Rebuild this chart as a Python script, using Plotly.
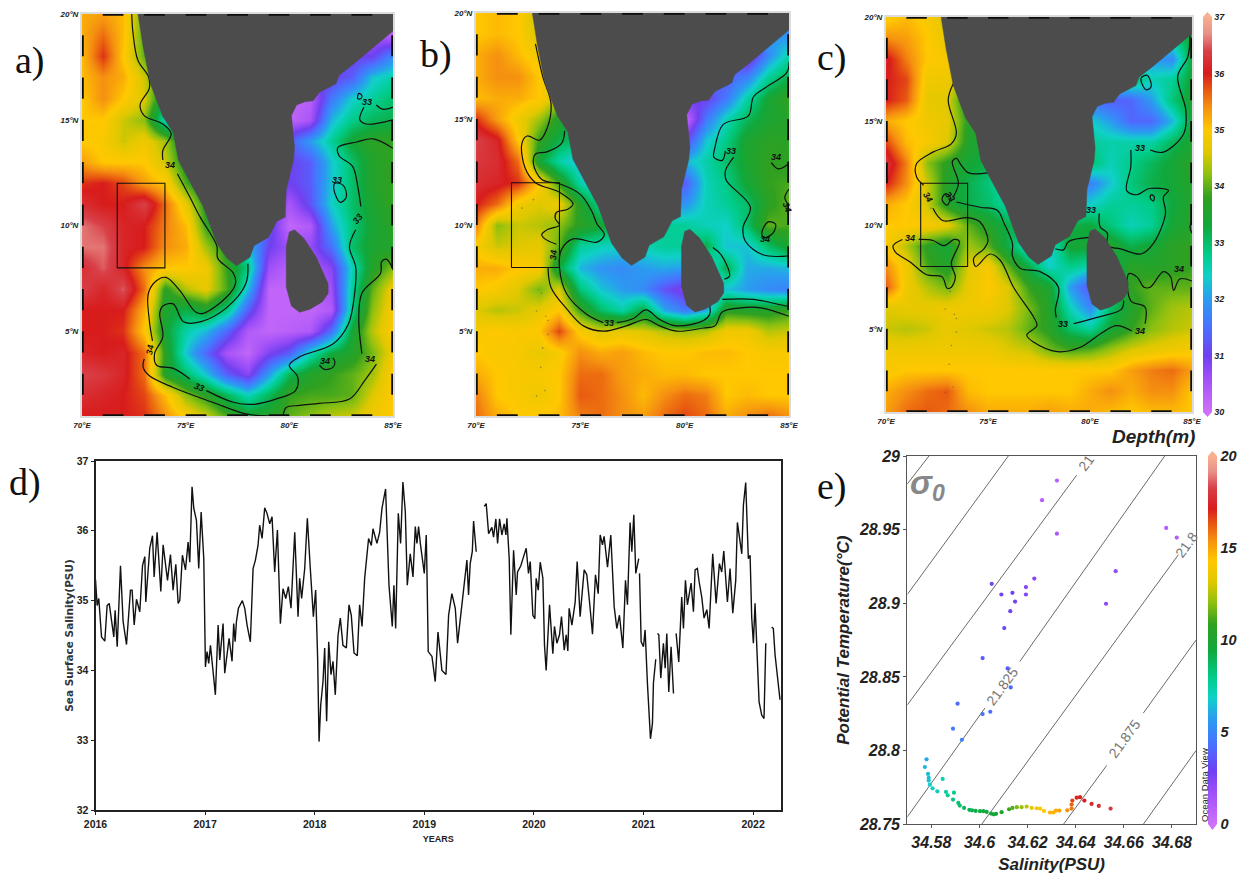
import plotly.graph_objects as go

W, H = 1239, 881

# ---------- salinity colour scale ----------
SAL_STOPS = [30, 30.6, 31, 31.5, 32, 32.4, 32.8, 33.3, 33.8, 34.2, 34.6, 35, 35.4, 35.7, 36, 36.4, 36.7, 37]
SAL_COLORS = ["#d070f8", "#a050f8", "#7040f0", "#4a70ff", "#2a9cf0", "#10d0c8", "#00cc88", "#10a83c", "#30a020",
              "#8cc010", "#e0c800", "#ffc800", "#f59010", "#e85a10", "#d81c1c", "#d84048", "#e89088", "#f8b090"]
SCALE = [[(s - 30) / 7, c] for s, c in zip(SAL_STOPS, SAL_COLORS)]

# ---------- map grid: lon 70..85, lat 20..1 ----------
LONS = list(range(70, 86))
LATS = list(range(20, 0, -1))

SSS_A = [
 [35.2,35.3,35.1,34.0,33.3,33.3,33,33,32,31,31,31,31,30.8,30.5,30.2],
 [35.2,35.6,35.1,33.9,33.3,33.3,33,33,32,31,31,31,31,30.8,30.5,30.3],
 [35.1,35.9,35.0,34.0,33.5,33.3,33,33,32,31,31,31,31,31,31,31.8],
 [35.1,35.4,35.2,34.5,33.6,33.5,33,33,32,31,31,31,31,31.3,32.3,32.6],
 [35.0,35.4,35.0,34.6,33.2,32.5,32,32,31,30.5,30.2,30.3,31.6,32.4,32.7,33],
 [35,35,34.5,34.2,32.5,32.4,32,32,31.5,30.5,30.2,30.5,32.2,32.8,33.1,33.2],
 [35,34.9,34.5,34.8,34.3,33.3,33,33,32,31.7,31.3,32,32.7,33.4,33.7,33.8],
 [35.3,35,35,35,34.5,33.5,33.3,33,32,31.5,31,31.3,32.3,33,33.6,33.8],
 [35.9,36,35.8,35.3,35,33.9,33.3,33,32,31.5,31,31.3,32.3,33,33.6,33.8],
 [36.2,36,36,36.4,35.6,34.7,33.6,33.3,32,31,30.5,31.2,32.4,33,33.5,33.8],
 [36.6,36.4,36.1,36,35.5,35.1,33.8,33.5,32.5,31.2,30.2,30.4,32,32.9,33.4,33.7],
 [36.6,36.6,36.1,36,35.4,35.2,34.3,33.6,32.3,31,30.6,30.7,31.5,33,33.5,33.6],
 [36.2,36.5,36.1,35.4,35,35,34.8,33.8,32.8,30.6,30.3,30.4,30.8,32.5,33.6,34.2],
 [36.4,36.1,36.5,35.6,33.7,34.4,34.7,33.9,32.2,30.2,30.2,30.2,30.6,32.7,34,34.8],
 [36,36,36,35.2,33.5,33.2,33.5,32.8,31.3,30.2,30.2,30.2,30.4,32.8,34.2,34.9],
 [36,36,35.9,35,33.4,32.6,32.2,31.4,30.4,30.2,30.3,30.4,31.5,33.4,34.4,35],
 [36.1,36,36.1,35.6,33.7,32.3,31.4,30.5,30.2,30.9,31.3,32.5,33.3,33.6,34.1,34.8],
 [36.4,36.3,36.1,35.6,33.6,33,32.3,31.3,30.8,32,33.1,33.6,33.8,34,34.3,35],
 [36.2,36.1,36,35.8,35.1,34.2,33.7,33.1,32.5,33.1,33.8,33.9,33.9,34,34.6,35],
 [36,36,36,35.9,35.4,34.9,34.5,33.9,33.5,33.6,34,34.2,34.4,34.5,34.8,35],
]
SSS_B = [
 [35,35.1,35,34.4,33.5,33,33,33,32.5,32,32,32,32,31.5,31.5,31.2],
 [35,35.1,35,34.5,33.8,33,33,33,32.5,32,32,32,32,32,32,31.8],
 [35.2,35.4,35.1,34.8,34,33.5,33,33,32.5,32,32,32,31.5,30.5,31.8,32.6],
 [35.2,35.4,35.4,35.0,34.5,33.5,33,33,32,32,32,31.5,31.3,31.7,32.7,33.2],
 [35.1,35.2,35.2,35,34.4,33.5,33,32.5,32,31.5,31,31,31.6,32.6,33.4,33.8],
 [35.9,35.3,34.8,34.3,33.6,33,32.5,32,31.5,30.2,30.1,31.6,32.5,33.1,33.5,33.6],
 [36.4,36.1,35,33.8,33.2,33,32.5,32,31.5,30.8,31,32.3,32.8,33.5,33.7,33.7],
 [36.3,36.2,35.6,33.4,32.6,32.2,31.8,32,32,32,32.2,32.6,33,33.5,33.8,33.7],
 [36.2,36.1,35.9,35,33.8,32.6,32,32,32,31.5,31.3,32.5,32.8,33.4,33.8,33.9],
 [36,35.6,34.8,34.6,34.8,33.6,32.7,32.3,32,32,31.9,32.5,32.7,33,33.7,34],
 [35.5,34.2,34.5,34.4,34.2,33.7,33.4,33,32.8,32.7,32.7,32.5,32.4,33,34,33.9],
 [34.9,34.5,34.6,34.7,34,32.7,32.5,32.4,32.5,32.7,32.7,33.2,32.3,32.3,33,33.5],
 [35.2,35.2,35,34.9,33.3,32.2,31.9,31.8,32,32.1,32,32,33.2,32.1,32.1,32.2],
 [35,34.9,34.6,34.1,34.6,32.9,32.3,32,31.8,31.2,30.8,31.5,32.3,32,31.8,31.7],
 [34.6,34.4,34.5,34.7,35,33.8,33,32.6,33.3,32.1,31.6,32.1,33.7,33.6,33.6,33.8],
 [34.9,35,34.9,35,35.8,34.9,34.6,34.7,34.6,34.4,34.3,34.4,34.8,34.8,34.4,34.5],
 [35,34.9,34.9,34.7,34.9,35.4,35.2,35.3,35.1,35,35,35.1,35.1,35,34.9,34.9],
 [35.2,35,34.9,34.9,35,35.6,35.6,35.3,35.2,35.1,35.1,35,35,35,35,35],
 [35.5,35,34.9,34.8,35,35.7,35.6,35.4,35.1,35.4,35.6,35.5,35,35.1,35,35],
 [35.6,35.2,35,35,35.1,35.5,35.6,35.4,35.3,35.6,35.8,35.6,35.2,35.4,35.6,35.4],
]
SSS_C = [
 [34.9,35.1,34.9,34.6,33.8,33.5,33,33,33,33,33,33,33,33,33,33.3],
 [35.4,35.3,35,34.7,33.8,33.5,33,33,33,33,33,33,33,32.8,32.8,33.4],
 [36.1,35.5,35,34.9,34,33.5,33,33,33,33,33,33,32.5,32,31.8,33.4],
 [36,35.8,34.8,34.8,34.2,33.5,33,33,33,33,33,32.8,33,32.5,32.7,33.4],
 [36,35.7,34.7,34.6,33.5,32.5,32.5,32.5,32.5,32,31.5,31.3,31.4,32,32.9,33.5],
 [35.2,35,34.8,34.7,33.7,33.2,33,32.8,32.8,32.6,32.4,32,31.4,31.4,32.2,33.4],
 [35.8,35.1,34.9,34.6,33.6,33.4,33,32.8,32.8,32.8,32.7,32.6,32.6,32.6,33.1,33.5],
 [36.3,35.5,34.2,33.7,33.4,33.2,33,33,33,33.4,33,32.5,32.8,33.1,33.4,33.7],
 [36,35.4,34.5,33.6,33.2,32.9,32.4,32.4,32.4,32,31.7,32.3,32.9,33.2,33.4,33.6],
 [35.2,35,34.5,33.6,33.2,33,32.6,32.6,32.8,32.4,32.4,32.7,32.7,32.8,33.3,33.6],
 [35,35,34.9,34.7,34,33.6,33.2,33.2,33,33.2,33.3,32.9,32.5,32.7,33.4,33.6],
 [34.9,34.4,33.7,33.4,34.3,34,33.2,32.3,32.3,33.4,33.4,33.6,33.2,33.4,33.7,33.8],
 [35.4,34.8,33.9,33.6,34.6,34.9,34,33.2,32.4,32.8,32.6,33,33.7,33.6,33.7,33.8],
 [35.7,34.8,34.4,34.1,34.7,35,34.6,33.8,33.5,32,31.2,32.5,33.8,34,34,34],
 [34.6,34.7,34.7,34.8,34.8,34.8,34.6,34.1,33.6,32.5,31.8,33,33.6,34,34.3,34.4],
 [34.5,34.4,34.5,34.7,34.6,34.5,34.4,34,33.7,33,32.7,33.4,33.8,34.2,34.4,34.5],
 [34.8,34.8,34.8,34.8,34.8,34.8,34.6,34.5,34.1,33.9,34,34.3,34.6,34.7,34.8,34.9],
 [34.9,35,35,35,35,35,35,35,35,35,35,35,35.3,35.5,35.6,35.3],
 [35.2,35.4,35.6,35.7,35.1,35,35,35,35,35,35.2,35.4,35.2,35.4,35.4,35],
 [35.3,35.6,35.7,35.6,35.4,35.2,35.2,35.2,35.3,35.2,35.2,35.1,35,35.1,35.1,35],
]

# ---------- land ----------
INDIA_LON = [72.7,72.95,73.3,73.9,74.4,74.65,75.3,75.85,76.5,77,77.45,78.1,78.3,79,79.4,79.8,79.85,80.2,80.25,80.2,80.1,80.35,80.75,81.15,81.45,82.25,82.4,83.05,83.55,84.3,85,85,72.7]
INDIA_LAT = [20,18.45,16.7,15.15,14.4,13.1,11.9,10.9,9.15,8.45,8.1,8.5,9.05,9.45,10.2,10.4,11.7,13.1,13.7,14.3,15.2,15.7,15.85,15.9,16.3,16.7,17.1,17.6,18,18.6,19.2,20,20]
LANKA_LON = [80,80.25,80.7,81.3,81.87,81.87,81.6,81,80.5,80.1,79.85,79.85,79.85,80]
LANKA_LAT = [9.7,9.8,9.4,8.5,7.25,6.8,6.4,6.05,5.9,6.2,7.1,8.2,9,9.7]
ISLAND_LON = [73.15,72.9,73.35,73.45,73.2,73.3,72.9,72.75,72.2,73.85,73.45,73.1]
ISLAND_LAT = [6.8,5.95,5.7,4.85,4.2,2.2,1.95,11.2,10.8,10.5,5.5,3.3]

BOX_LON = [71.7, 74, 74, 71.7, 71.7]
BOX_LAT = [8, 8, 12, 12, 8]
DASH_LON = [71, 73, 75, 77, 79, 81, 83]
DASH_LAT = [18, 16, 14, 12, 10, 8, 6, 4, 2]

# ---------- contours (lon, lat) ----------
CONT_A = [
 ([72.4,72.46,72.7,73.2,73.25,72.8,73,73.9,74.3,73.9,73.9], [20,19.1,17.8,17.05,16.5,15.7,15.2,14.8,14.35,13.55,13.1]),
 ([74.6,75.2,75.7,76.5,76.55,77.3,77.4,76.95,75.85,75.5,74.7,74.05,73.6,73.2,73.25,73.4], [12.45,11.35,10.4,9.05,8.45,7.75,7.25,6.6,5.85,5.9,6.95,7.55,7.4,6.8,5.5,4.55]),
 ([73,72.95,73.25,74.4,76.3,77.9,79,79.2], [3.7,3.3,2.9,2.35,1.65,1.1,1.0,1.0]),
 ([78,77.9,76.95,75.7,74.9,74.4,73.9,73.75,73.9,73.5,73.6,74.4,75.2], [8.2,7.25,6.1,5.45,5.45,6.3,6.2,5.85,4.75,3.95,3.4,3.25,2.75]),
 ([76,77.3,78.25,79.35,80.3,80.4,80,80.5,82.1,82.85,83.15,83.2,82.9,83.2], [2.2,1.65,1.55,1.8,2.2,2.85,3.4,3.8,4.4,5.35,6.8,8.05,9,9.8]),
 ([83.45,83.3,83.05,82.4,82.35,83.25,84.05,85], [10.9,11.85,12.8,13.3,13.7,13.95,14.1,13.65]),
 ([79.7,79.85,80.5,81.45,82.9,83.65,84.2], [1,1.4,1.5,1.6,1.8,2.7,3.45]),
 ([83.5,83.35,83.5,84.4,84.45,84.7,85], [3.95,5.5,6.8,7.75,8.3,8.4,7.9]),
 ([84.2,84.5,85], [15.7,15.5,15.6]),
 ([83.6,83.4,83.7,85], [15.6,15,14.8,15]),
 ([82.2,82.15,82.45,82.75,82.6,82.2], [12,11.7,11.1,11.35,11.9,12]),
 ([81.45,81.7,82.1,82.2,82.1], [3.4,3.2,3.3,3.55,3.75]),
 ([83.3,83.45,83.5,83.35,83.3], [16.0,16.0,16.15,16.25,16.0]),
]
LABEL_A = [("34",74.25,12.85,0),("34",73.3,4.15,-80),("33",75.63,2.35,20),("33",83.3,10.3,-50),("33",82.3,12.15,0),
           ("33",83.75,15.85,0),("34",81.7,3.6,0),("34",83.9,3.7,0)]
CONT_B = [
 ([72.85,73.2,73.6,73.4,73.05,72.45,72.2,72.35,72.85,74,74.65,74.4,73.85,73.8,74,73.45,73.15,73.3,73.85], [18.55,17,15.7,14.55,14,14.2,13.85,12.7,12,11.55,11,10.75,10.6,10.3,10,9.8,9.55,9.35,9.1]),
 ([73.45,73.6,74.35,75.15,76.1,77.2,78.15,78.8,79.6,80.9,81.45,81.8,82.7,83.65,85], [8,7.05,6.05,5.25,5,5.25,5.55,5.25,5,5.15,5.25,5.9,6.1,6.1,5.7]),
 ([74.25,74.1,73.4,72.85,72.75,73.15,74,75,75.55,75.8,76.15,75.8,74.65,74.1,74,74.35,75.3,76.1], [14.45,13.85,13.45,13.35,12.9,12.15,11.95,11.45,10.65,10.05,9.55,9.2,9.35,8.85,8,6.75,5.8,5.4]),
 ([76.75,77.55,78.15,78.8,79.6,80.9,81.2,81.2], [5.4,5.6,6,5.55,5.25,5.5,5.8,6.2]),
 ([81.8,83.3,84.1,85], [6.5,6.5,6.35,6.15]),
 ([85,84.9,83.9,83.3,83.05,81.85,81.45,81.4,81.8,81.95], [17.7,17.2,16.5,16.05,15.15,14.75,13.65,13.2,13.05,13.5]),
 ([82.35,81.95,82,83.15,82.8,82.9,83.75,85], [13.2,12.55,12.1,10.85,9.9,9.25,8.6,8.55]),
 ([83.7,83.8,84.25,84.35,84,83.7], [9.65,9.4,9.65,10.05,10.15,9.65]),
 ([84.15,84.5,85], [12.95,12.65,12.9]),
 ([85,84.8,85], [11.7,11.3,10.9]),
 ([81.35,81.75,82.15,81.9], [8.95,8.6,7.6,7.45]),
]
LABEL_B = [("33",76.35,5.4,0),("34",73.7,8.6,-85),("33",82.2,13.5,0),("34",84.4,13.2,0),("34",83.85,9.35,0),("34",84.9,10.85,70)]
CONT_C = [
 ([73.3,73.05,73.45,73.2,72.3,71.5,71.5,71.85], [16.8,16,14.4,13.9,13.5,12.95,12.3,11.9]),
 ([72.3,72.8,73.95,74.6,75,74.8,74.3,74.4,75.1,75.6,76.25,77.25,77.4,76.9,77.25,78.4,79.5,80.65,81.3,82.05], [10.8,10.2,10.35,10.15,9.25,8.85,8.4,8,8.6,8.3,7,5.55,5.15,4.7,4.35,3.9,4.1,4.85,5.15,4.9]),
 ([82.7,82.7,82,81.9,82.3,82.65,82.95,83.6,83.95,84.1,84.4,85], [5.25,6.05,6.35,7.65,7.5,7,7,7.75,7.5,6.85,7.4,7.3]),
 ([70.8,70.35,70.45,71.2,72,72.75,73,73.2,73.4,73.2,73.6,73.35,72.85,72.3,71.6], [9.3,9,8.7,8.2,7.6,7.5,6.95,7,7.5,8.15,9.2,9.3,9,9.25,9.3]),
 ([75,74.05,73.7,73.45,73.25,73.55,73.3], [12.5,12.5,12.85,13.2,13.05,12,11.35]),
 ([73.45,74.6,75.45,75.8,76.2,76.2,76.6,77.55,78.45,78.3,78.35], [11.1,10.85,10.7,10.05,9.1,8.5,7.9,7.75,7,5.9,5.55]),
 ([79.2,80.35,81.55,81.65], [5.25,5.55,5.95,6.35]),
 ([72.75,73,73.15,72.9,72.75], [11.2,10.95,11.35,11.5,11.2]),
 ([84.9,84.8,84.3,84.7,84.6,83.6,82.95], [19.2,18.1,17.15,15.5,14.4,13.5,13.6]),
 ([82,82,81.8,82.3,82.9,83.85,83.6,83.7,83.1,82.5,81.5,80.85,80.85,80.5,80.45], [13.6,12.8,11.65,11.45,11.75,11.65,11.35,10.55,9.1,8.6,8.85,9,9.6,9.9,10.55]),
 ([78.3,78.7,78.95,80], [8.85,8.8,9.2,9.4]),
 ([82.5,82.75,83,82.8,82.5], [17.05,16.5,16.65,17.2,17.05]),
 ([82.95,83.1,83.15,83,82.95], [11.3,11.15,11.35,11.45,11.3]),
 ([85,84.9,85], [10.2,9.9,9.6]),
]
LABEL_C = [("34",72.05,11.35,60),("34",71.2,9.35,0),("33",73.15,11.35,50),("33",78.7,5.25,0),("34",82.45,4.9,0),
           ("33",82.45,13.7,0),("33",80.05,10.7,0),("34",84.35,7.9,0)]

# ---------- panel d: years since 2016, salinity; None marks data gaps ----------
YEAR_OFFSET = [
 0,.015,.03,.055,.085,.106,.125,.146,.167,.179,.198,.228,.252,.283,.319,.334,.353,.374,.404,.429,.45,.459,.495,.52,.535,.562,.596,.617,.657,.684,.708,.733,.754,.769,.793,.821,.845,.86,.881,.897,.921,.942,.964,.988,
 1.003,1.018,1.033,1.049,1.073,1.094,1.119,1.134,1.164,1.179,1.219,1.246,1.261,1.274,1.286,1.304,1.34,1.362,1.383,1.413,1.438,1.459,1.483,1.498,1.52,1.544,1.565,1.59,1.611,1.635,1.66,1.687,1.711,1.736,1.76,1.784,1.818,1.848,1.863,1.881,1.909,1.933,1.96,1.988,
 2.009,2.027,2.04,2.055,2.076,2.091,2.109,2.128,2.149,2.167,2.188,2.213,2.234,2.258,2.289,2.313,2.334,2.359,2.389,2.41,2.432,2.456,2.492,2.517,2.532,2.568,2.593,2.614,2.647,2.663,2.678,2.708,2.723,2.739,2.763,2.784,2.805,2.827,2.845,2.872,2.897,2.918,2.933,2.948,2.964,
 3,3.018,3.024,3.036,3.07,3.1,3.125,3.161,3.198,3.222,3.252,3.283,3.304,3.334,3.374,3.389,3.404,3.419,3.438,3.45,3.474,None,
 3.547,3.565,3.587,3.617,3.632,3.653,3.669,3.687,3.708,3.729,3.745,3.754,3.775,3.79,3.815,3.839,3.851,3.881,3.906,3.93,3.951,3.967,3.991,
 4.009,4.021,4.04,4.058,4.082,4.097,4.112,4.143,4.173,4.188,4.21,4.234,4.252,4.277,4.295,4.31,4.322,4.347,4.377,4.395,4.422,4.459,4.483,4.508,4.535,4.562,4.587,4.605,4.626,4.641,4.672,4.702,4.733,4.757,4.781,4.812,4.836,4.854,4.878,4.894,4.912,4.93,4.957,None,
 4.964,4.979,5,5.015,5.036,5.064,5.082,5.091,5.112,None,
 5.128,5.14,5.158,5.182,5.198,5.213,5.231,5.252,5.274,None,
 5.298,5.322,5.349,5.365,5.383,5.401,5.435,5.456,5.471,5.492,5.508,5.532,5.553,5.578,5.599,5.632,5.663,5.693,5.714,5.733,5.766,5.79,5.815,5.842,5.857,5.897,5.912,5.933,5.957,5.973,5.988,
 6.003,6.018,6.049,6.055,6.079,6.1,6.116,None,
 6.17,6.185,6.201,6.222,6.246]
SSS_SERIES = [
 35.3,34.93,35.03,34.48,34.42,34.93,34.96,34.75,34.48,34.86,34.34,35.5,34.7,34.37,35.15,35.15,34.65,35.02,34.84,35.5,35.63,34.98,35.75,35.93,35.34,35.98,35.13,35.8,35.29,35.66,35.15,35.52,34.96,35.0,35.65,35.44,35.84,35.55,36.63,36.32,36.15,35.46,36.27,35.6,
 34.05,34.27,34.1,34.36,33.98,33.65,34.65,34.15,34.67,33.96,34.46,34.13,34.67,34.41,34.7,34.89,35,34.89,34.65,34.41,35.46,35.58,35.79,36.08,35.89,36.33,36.25,36.1,36.2,35.41,36.01,34.67,35.17,35.03,35.2,34.89,35.98,34.77,35.32,35.03,35.46,36.18,35.46,34.77,
 35.15,34.17,32.98,33.5,33.84,34.32,33.27,34.41,33.94,34.13,33.65,34.5,34.75,34.36,34.32,34.94,34.79,34.25,34.21,34.94,34.63,35.32,35.89,35.79,36.03,35.82,35.98,36.32,36.6,35.79,35.22,34.63,35.22,34.6,36.25,35.82,36.7,36.27,35.22,35.67,35.34,36.06,35.82,36.06,35.82,
 35.39,35.94,35.46,34.27,34.2,33.84,34.55,34.0,33.94,34.79,35.1,34.89,34.39,34.84,35.37,35.58,35.08,35.53,35.7,36.14,35.7,None,
 36.35,36.39,35.96,36.05,35.91,36.17,35.82,36.17,35.94,36.1,35.94,36.18,35.6,34.51,35.72,35.08,35.41,35.5,35.63,35.75,35.39,35.56,34.79,
 34.74,35.32,35.15,35.55,35.32,34.36,34.0,34.94,34.24,34.63,34.39,34.51,34.77,34.29,34.51,34.28,34.89,34.65,34.98,35.56,34.77,35.44,35.37,34.98,34.52,35.37,35.1,35.94,35.8,35.92,35.48,35.94,34.91,34.6,34.79,34.32,35.29,34.94,36.12,35.7,36.23,35.39,35.6,None,
 35.39,34.41,34.34,34.58,33.82,33.02,33.24,33.82,34.16,None,
 34.53,34.51,33.89,34.39,34.03,34.53,33.69,34.34,33.67,None,
 34.53,34.12,35.05,34.6,35.29,34.94,35.25,34.84,35.44,35.46,35.27,35.05,34.75,34.87,34.6,35.67,34.96,35.53,35.41,35.71,34.98,35.46,34.82,35.29,36.12,35.67,36.37,36.69,35.6,35.65,34.75,
 34.39,34.96,33.89,33.55,33.36,33.31,34.39,None,
 34.62,34.6,34.22,33.94,33.58]
YEAR_TICKS = [2016, 2017, 2018, 2019, 2020, 2021, 2022]

# ---------- panel e ----------
TS_SAL = [34.6322,34.626,34.6322,34.6776,34.682,34.6566,34.6526,34.6228,34.6193,34.6193,34.6051,34.6091,34.6137,34.6148,34.6128,34.6103,34.6013,34.6117,34.613,34.5909,34.6045,34.6013,34.589,34.5927,
 34.578,34.5773,34.5786,34.5789,34.5789,34.5794,34.5805,34.5825,34.5847,34.5861,34.5868,34.5894,34.589,34.5912,34.5918,34.5936,
 34.5958,34.5969,34.5984,34.6002,34.6016,34.603,34.6048,34.6059,34.6069,34.6092,34.6123,34.6137,34.6155,34.6175,34.6196,34.6217,34.6238,34.6252,34.6268,34.6293,34.6307,34.6318,34.6332,34.6365,34.6383,34.6383,34.6386,34.6404,34.6418,34.6436,34.6466,34.6496,34.6545]
TS_TEMP = [28.9833,28.97,28.9473,28.9512,28.9446,28.9218,28.8997,28.9168,28.911,28.906,28.9132,28.906,28.9071,28.9012,28.8947,28.8832,28.8628,28.8558,28.8429,28.8319,28.8264,28.8248,28.8149,28.8074,
 28.7941,28.7889,28.7842,28.7815,28.7797,28.7769,28.7744,28.7724,28.7808,28.772,28.7697,28.7715,28.7668,28.7645,28.7627,28.7611,
 28.7598,28.7595,28.7591,28.7589,28.7589,28.7584,28.7573,28.7568,28.7571,28.7582,28.7602,28.7611,28.7616,28.7616,28.762,28.7611,28.7609,28.7607,28.7591,28.758,28.758,28.7593,28.7593,28.7595,28.7607,28.7634,28.7661,28.7681,28.7684,28.7661,28.7638,28.7625,28.7607]
TS_DEPTH = [.8,1,1.3,1,1,2,2.2,2.3,2.4,2.5,2.7,2.8,2.9,3,3,3.2,3.6,3.7,4,4.1,4.3,4.4,4.6,4.8,
 6,6.2,6.4,6.5,6.6,6.8,7,7.2,7.3,7.5,7.7,8,8.2,8.4,8.6,8.8,
 9,9.1,9.2,9.3,9.4,9.5,9.6,9.7,9.8,10.3,11,11.3,11.8,12.2,12.7,13.4,13.8,14,14.3,14.7,14.8,14.9,15,15.4,15.8,16.2,16.6,17,17.1,17.2,17.5,17.7,18]
ISO_LINES = [
 ([34.57,34.579],[28.981,29]),
 ([34.57,34.612],[28.906,29]),
 ([34.57,34.6404],[28.831,28.987]),
 ([34.57,34.6023],[28.755,28.829]),
 ([34.6168,34.677],[28.8606,29]),
 ([34.6009,34.6827],[28.75,28.933]),
 ([34.6349,34.6529],[28.75,28.79]),
 ([34.6681,34.69],[28.8255,28.875]),
 ([34.6681,34.69],[28.75,28.8]),
]
ISO_LABELS = [("21.825",34.6096,28.8436),("21.875",34.6601,28.808),("21",34.6442,28.9955),("21.8",34.686,28.9395)]
SAL_TICKS = [34.58,34.6,34.62,34.64,34.66,34.68]
SAL_TICKTEXT = ["34.58","34.6","34.62","34.64","34.66","34.68"]
TEMP_TICKS = [28.75,28.8,28.85,28.9,28.95,29]
TEMP_TICKTEXT = ["28.75","28.8","28.85","28.9","28.95","29"]

# ---------- layout helpers ----------
def dx(a, b): return [a / W, b / W]
def dy(top, bot): return [1 - bot / H, 1 - top / H]
def tri(x0, x1, ybase, yapex, color):
    return dict(type="path", xref="paper", yref="paper", fillcolor=color, line=dict(width=0),
                path=f"M {x0/W} {1-ybase/H} L {x1/W} {1-ybase/H} L {(x0+x1)/2/W} {1-yapex/H} Z")

fig = go.Figure()
ann = []
ARIAL = "Liberation Sans"
BI = dict(family=ARIAL, style="italic", weight="bold")

PANELS = [
 ("x", "y", "", (82, 393), (14, 416), SSS_A, CONT_A, LABEL_A),
 ("x2", "y2", "2", (476, 789), (13, 416), SSS_B, CONT_B, LABEL_B),
 ("x3", "y3", "3", (886, 1192), (17, 412), SSS_C, CONT_C, LABEL_C),
]
layout = {}
for xa, ya, sfx, xr, yr, sss, conts, labels in PANELS:
    show_cb = sfx == "3"
    fig.add_trace(go.Heatmap(
        x=LONS, y=LATS[::-1], z=sss[::-1], zmin=30, zmax=37, zsmooth="best", colorscale=SCALE,
        xaxis=xa, yaxis=ya, showscale=show_cb, hoverinfo="skip",
        colorbar=dict(thickness=9, thicknessmode="pixels", len=395, lenmode="pixels", x=1203 / W, xanchor="left",
                      y=1 - 412 / H, yanchor="bottom", outlinewidth=0, ticks="", tickvals=list(range(30, 38)),
                      tickfont=dict(size=9, color="#222", **BI), xpad=0, ypad=0) if show_cb else None))
    for lo, la in conts:
        fig.add_trace(go.Scatter(x=lo, y=la, mode="lines", xaxis=xa, yaxis=ya, showlegend=False, hoverinfo="skip",
                                 line=dict(color="#101010", width=1.2, shape="spline", smoothing=1)))
    for lo, la in [(INDIA_LON, INDIA_LAT), (LANKA_LON, LANKA_LAT)]:
        fig.add_trace(go.Scatter(x=lo, y=la, mode="lines", fill="toself", fillcolor="#4c4c4c", xaxis=xa, yaxis=ya,
                                 line=dict(color="#4c4c4c", width=0.5), showlegend=False, hoverinfo="skip"))
    if sfx:
        fig.add_trace(go.Scatter(x=ISLAND_LON, y=ISLAND_LAT, mode="markers", xaxis=xa, yaxis=ya, showlegend=False,
                                 hoverinfo="skip", marker=dict(size=1.6, color="#555", opacity=0.6)))
    fig.add_trace(go.Scatter(x=BOX_LON, y=BOX_LAT, mode="lines", xaxis=xa, yaxis=ya, showlegend=False, hoverinfo="skip",
                             line=dict(color="#111", width=1.1)))
    # ODV style frame dashes
    hx, hy = [], []
    for lo in DASH_LON:
        hx += [lo, lo + 1, None, lo, lo + 1, None]; hy += [20, 20, None, 1, 1, None]
    for la in DASH_LAT:
        hx += [70, 70, None, 85, 85, None]; hy += [la, la + 1, None, la, la + 1, None]
    fig.add_trace(go.Scatter(x=hx, y=hy, mode="lines", xaxis=xa, yaxis=ya, showlegend=False, hoverinfo="skip",
                             cliponaxis=False, line=dict(color="#0c0c0c", width=3.5)))
    common = dict(showgrid=False, zeroline=False, showline=True, mirror=True, linecolor="#dcdcdc", linewidth=2,
                  ticks="", automargin=False, tickfont=dict(size=8, color="#222", **BI))
    layout["xaxis" + sfx] = dict(domain=dx(*xr), range=[70, 85], anchor=ya, tickvals=[70, 75, 80, 85],
                                 ticktext=["70°E", "75°E", "80°E", "85°E"], **common)
    layout["yaxis" + sfx] = dict(domain=dy(*yr), range=[1, 20], anchor=xa, tickvals=[5, 10, 15, 20],
                                 ticktext=["5°N", "10°N", "15°N", "20°N"], **common)
    for t, lo, la, ang in labels:
        ann.append(dict(text=t, x=lo, y=la, xref=xa, yref=ya, showarrow=False, textangle=ang,
                        font=dict(size=9, color="#111", **BI)))
    ann.append(dict(text="Ocean Data View / DIVA", x=85.3 if sfx != "3" else 85.1, y=2.55, xref=xa, yref=ya,
                    showarrow=False, textangle=-90, font=dict(size=5.5, color="#222", family=ARIAL, style="italic")))

# panel d
fig.add_trace(go.Scatter(x=[None if v is None else 2016 + v for v in YEAR_OFFSET], y=SSS_SERIES, mode="lines",
                         xaxis="x4", yaxis="y4", showlegend=False, connectgaps=False,
                         line=dict(color="#111", width=1.4)))
D_FONT = dict(family=ARIAL, weight="bold")
layout["xaxis4"] = dict(domain=dx(95.5, 781), range=[2016, 2022.255], anchor="y4", tickvals=YEAR_TICKS,
                        tickformat="d", showgrid=False, zeroline=False, showline=True, mirror=True, linecolor="#222",
                        linewidth=2, ticks="outside", ticklen=3, tickwidth=1, tickcolor="#222", automargin=False,
                        tickfont=dict(size=10.5, color="#222", **D_FONT),
                        title=dict(text="YEARS", standoff=7, font=dict(size=9, color="#222", **D_FONT)))
layout["yaxis4"] = dict(domain=dy(461, 810), range=[32, 37], anchor="x4", tickvals=[32, 33, 34, 35, 36, 37],
                        showgrid=False, zeroline=False, showline=True, mirror=True, linecolor="#222", linewidth=2,
                        ticks="outside", ticklen=3, tickwidth=1, tickcolor="#222", automargin=False,
                        tickfont=dict(size=10.5, color="#222", **D_FONT),
                        title=dict(text="Sea Surface Salinity(PSU)", standoff=1,
                                   font=dict(size=10.5, color="#333", family="DejaVu Sans", weight="bold")))

# panel e
for sx, st in ISO_LINES:
    fig.add_trace(go.Scatter(x=sx, y=st, mode="lines", xaxis="x5", yaxis="y5", showlegend=False, hoverinfo="skip",
                             line=dict(color="#6a6a6a", width=1)))
fig.add_trace(go.Scatter(x=TS_SAL, y=TS_TEMP, mode="markers", xaxis="x5", yaxis="y5", showlegend=False,
                         marker=dict(size=4.2, color=TS_DEPTH, cmin=0, cmax=20, colorscale=SCALE, line=dict(width=0),
                                     colorbar=dict(thickness=9, thicknessmode="pixels", len=368, lenmode="pixels",
                                                   x=1208 / W, xanchor="left", y=1 - 824 / H, yanchor="bottom",
                                                   outlinewidth=0, ticks="", tickvals=[0, 5, 10, 15, 20], xpad=0, ypad=0,
                                                   tickfont=dict(size=14.5, color="#222", **BI)))))
layout["xaxis5"] = dict(domain=dx(907.3, 1196), range=[34.57, 34.69], anchor="y5", tickvals=SAL_TICKS, ticktext=SAL_TICKTEXT,
                        showgrid=False, zeroline=False, showline=True, mirror=True, linecolor="#555", linewidth=1.2,
                        ticks="outside", ticklen=3, tickcolor="#555", automargin=False, tickfont=dict(size=16, color="#222", **BI),
                        title=dict(text="Salinity(PSU)", standoff=8, font=dict(size=17, color="#222", **BI)))
layout["yaxis5"] = dict(domain=dy(456, 824.3), range=[28.75, 29], anchor="x5", tickvals=TEMP_TICKS, ticktext=TEMP_TICKTEXT,
                        showgrid=False, zeroline=False, showline=True, mirror=True, linecolor="#555", linewidth=1.2,
                        ticks="outside", ticklen=3, tickcolor="#555", automargin=False, tickfont=dict(size=16, color="#222", **BI),
                        title=dict(text="Potential Temperature(°C)", standoff=4, font=dict(size=17, color="#222", **BI)))
for t, s, d in ISO_LABELS:
    ann.append(dict(text=t, x=s, y=d, xref="x5", yref="y5", showarrow=False, textangle=-54,
                    font=dict(size=14, color="#777", family=ARIAL)))
ann.append(dict(text="σ<sub>0</sub>", x=34.5785, y=28.98, xref="x5", yref="y5", showarrow=False,
                font=dict(size=33, color="#888", **BI)))
ann.append(dict(text="Ocean Data View", x=1204 / W, y=1 - 785 / H, xref="paper", yref="paper", showarrow=False,
                xanchor="center", yanchor="middle", textangle=-90, font=dict(size=9.5, color="#222", family=ARIAL)))
ann.append(dict(text="Depth(m)", x=1153 / W, y=1 - 436 / H, xref="paper", yref="paper", showarrow=False,
                xanchor="center", yanchor="middle", font=dict(size=19, color="#222", **BI)))
for t, px, py in [("a)", 30, 60), ("b)", 436, 55), ("c)", 832, 57), ("d)", 25, 482), ("e)", 832, 487)]:
    ann.append(dict(text=t, x=px / W, y=1 - py / H, xref="paper", yref="paper", showarrow=False,
                    xanchor="center", yanchor="middle", font=dict(size=38, color="#111", family="Liberation Serif")))

shapes = [tri(1203, 1212, 17, 12, "#f8b090"), tri(1203, 1212, 412, 417, "#d070f8"),
          tri(1208, 1217, 456, 451, "#f8b090"), tri(1208, 1217, 824, 830, "#d070f8")]

fig.update_layout(width=W, height=H, margin=dict(l=0, r=0, t=0, b=0, autoexpand=False), plot_bgcolor="white", paper_bgcolor="white",
                  annotations=ann, shapes=shapes, showlegend=False, **layout)
fig.write_html("out.html", post_script="document.body.style.margin='0';", config={"displayModeBar": False})
